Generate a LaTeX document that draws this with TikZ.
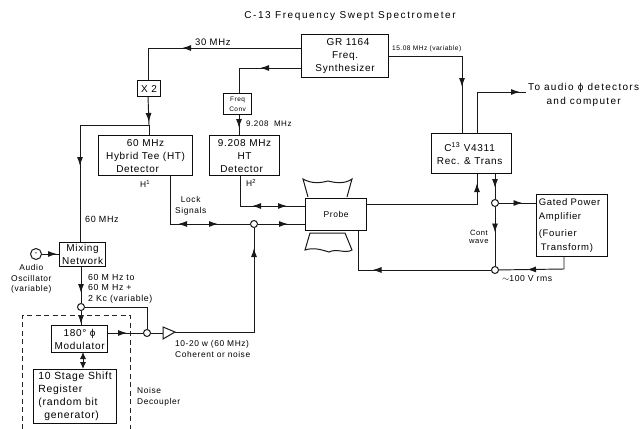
\documentclass[tikz,border=0pt]{standalone}
\usepackage{fontspec}
\setmainfont[LetterSpace=7]{Liberation Sans}
\usetikzlibrary{arrows.meta,decorations.markings,calc}
\tikzset{
  x=1pt,y=-1pt,
  wire/.style={line width=0.95pt,black!90},
  block/.style={draw=black!95,line width=1.2pt,fill=white,inner sep=0pt,align=center,font=\fontsize{10}{13}\selectfont,anchor=north west},
  junction/.style={circle,draw=black!90,line width=1pt,fill=white,minimum size=7pt,inner sep=0pt},
  lab/.style={font=\fontsize{9.5}{11}\selectfont,inner sep=0pt,anchor=west,align=left},
  small/.style={font=\fontsize{8.4}{10.4}\selectfont,inner sep=0pt,anchor=west,align=left},
  arr/.style={postaction={decorate,decoration={markings,mark=at position #1 with {\arrow{Latex[length=9pt,width=6pt]}}}}},
  rarr/.style={postaction={decorate,decoration={markings,mark=at position #1 with {\arrowreversed{Latex[length=9pt,width=6pt]}}}}},
}
\newcommand{\boxat}[7][]{\node[block,minimum width=#5 pt,minimum height=#6 pt,#1] (#2) at (#3,#4) {#7};}
\begin{document}
\begin{tikzpicture}
\useasboundingbox (0,0) rectangle (641,429);
\fill[white] (0,0) rectangle (641,429);
\node[font=\fontsize{10}{12}\selectfont\addfontfeature{LetterSpace=16},inner sep=0pt] (title) at (350,16) {C-13 Frequency Swept Spectrometer};
% bend points
\coordinate (a1) at (148,48);
\coordinate (a2) at (149,125);
\coordinate (a3) at (80,125);
\coordinate (b1) at (239,68);
\coordinate (c1) at (240,206);
\coordinate (d1) at (170,224);
\coordinate (f1) at (147,307);
\coordinate (g1) at (462,56);
\coordinate (h1) at (477,92);
\coordinate (h2) at (526,92);
\coordinate (i1) at (477,204);
\coordinate (j1) at (564,269);
\coordinate (k1) at (358,270);
% wires (under the blocks)
\draw[wire,arr=119pt] (301,48) coordinate (gr30) -- (a1) -- (148,80) coordinate (x2in);
\draw[wire,arr=26pt] (148,96) coordinate (x2out) -- (a2);
\draw[wire] (a2) -- (149,135) coordinate (htin);
\draw[wire,arr=110pt] (a2) -- (a3) -- (80,242) coordinate (mixin);
\draw[wire,arr=41pt] (301,68) coordinate (gr68) -- (b1) -- (239,93) coordinate (convin);
\draw[wire,arr=14pt] (239,114) coordinate (convout) -- (239,135) coordinate (htbin);
\draw[wire,rarr=43pt,arr=78pt] (240,175) coordinate (htbout) -- (c1) -- (305,206) coordinate (prin);
\node[junction] (jsum) at (254,224) {};
\draw[wire,rarr=57pt,arr=97pt] (170,175) coordinate (htaout) -- (d1) -- (jsum);
\draw[wire,arr=30pt] (jsum) -- (305,224) coordinate (prin2);
\draw[wire,arr=163pt] (175,332) coordinate (amptip) -- (254,332) coordinate (e2) -- (jsum);
\draw[wire,arr=105pt] (388,56) coordinate (grout) -- (g1) -- (462,133) coordinate (recin);
\draw[wire,arr=84pt] (477,133) coordinate (recout) -- (h1) -- (h2);
\draw[wire,arr=132pt] (366,204) coordinate (prout) -- (i1) -- (477,173) coordinate (recin2);
\node[junction] (jrec) at (495,203) {};
\draw[wire,arr=15pt] (495,173) coordinate (recout2) -- (jrec);
\draw[wire,arr=23.5pt] (jrec) -- (536,203) coordinate (gin);
\node[junction] (jgate) at (495,270) {};
\draw[wire,arr=25.5pt] (jrec) -- (jgate);
\draw[wire,arr=50pt] (564,256) coordinate (gout) -- (j1) -- (jgate);
\draw[wire,arr=118.5pt] (jgate) -- (k1) -- (358,230) coordinate (prb);
\node[junction] (jmix) at (81,307) {};
\node[junction] (jmod) at (147,333) {};
\draw[wire,arr=27pt] (81,266) coordinate (mixout) -- (jmix);
\draw[wire,arr=13pt] (jmix) -- (81,325) coordinate (modin);
\draw[wire] (jmix) -- (f1) -- (jmod);
\draw[wire,arr=20pt] (107,333) coordinate (modout) -- (jmod);
\draw[wire] (jmod) -- (163,333) coordinate (ampin);
\draw[wire,{Latex[length=7pt,width=6pt]}-{Latex[length=7pt,width=6pt]}] (83,352) coordinate (modb) -- (83,369) coordinate (regt);
% dashed enclosure
\draw[black!85,line width=0.9pt,dash pattern=on 5pt off 3.5pt] (22,429) -- (22,315) -- (130,315) -- (130,429);
% blocks
\boxat{gr}{301}{34}{87}{43}{\hspace*{6pt}GR 1164\\Freq.\\Synthesizer}
\boxat{xtwo}{137}{80}{23}{16}{X 2}
\boxat[font=\fontsize{6.5}{10.5}\selectfont]{conv}{223}{93}{28}{21}{Freq\\Conv}
\boxat{hta}{98}{135}{94}{40}{60 MHz\\Hybrid Tee (HT)\\Detector\hspace*{16pt}}
\boxat{htb}{209}{135}{70}{40}{9.208 MHz\\HT\hspace*{12pt}\\Detector\hspace*{6pt}}
\boxat[font=\fontsize{8.5}{10}\selectfont]{probe}{305}{198}{61}{32}{Probe}
\boxat{rec}{431}{133}{80}{40}{C\textsuperscript{13} V4311\hspace*{4pt}\\Rec. \& Trans\hspace*{4pt}}
\boxat[font=\fontsize{9.5}{13.5}\selectfont,align=left]{gated}{536}{194}{71}{62}{Gated Power\hspace*{5pt}\\Amplifier\\[4pt](Fourier\\\hspace*{2pt}Transform)}
\boxat{mix}{59}{242}{46}{24}{Mixing\\Network}
\boxat{mod}{51}{325}{56}{27}{180° ϕ\\Modulator}
\boxat[font=\fontsize{10.4}{13}\selectfont,align=left]{reg}{33}{369}{83}{54}{10 Stage Shift\\Register\\(random bit\\\hspace*{6pt}generator)}
% oscillator
\node[circle,draw=black!90,line width=1pt,minimum size=11pt,inner sep=0pt,font=\fontsize{8}{8}\selectfont] (osc) at (36,254) {-};
\draw[wire,arr=15pt] (osc) -- (mix.west|-osc);
% amplifier
\draw[line width=1pt,black!90,fill=white] ($(ampin)+(0,-6)$) -- (amptip) -- ($(ampin)+(0,6)$) -- cycle;
% magnet pole pieces
\draw[line width=1pt,black!90] (308,197) -- (303,179) .. controls (312,184) and (320,183) .. (328,181) .. controls (336,183) and (345,184) .. (352,179) -- (347,197);
\draw[line width=1pt,black!90] (310,233) -- (305,250) .. controls (314,247) and (322,250) .. (329,252) .. controls (337,248) and (345,254) .. (352,250) -- (345,233) -- cycle;
% labels
\node[lab] (l30) at (195,42) {30 MHz};
\node[small,font=\fontsize{8}{10}\selectfont] (l92) at (246,124) {9.208\ \ MHz};
\node[small] (lh1) at (140,184) {H\textsuperscript{1}};
\node[small] (lh2) at (246,183) {H\textsuperscript{2}};
\node[small,align=center,font=\fontsize{8.4}{11}\selectfont] (llock) at (175,205.5) {Lock\\Signals};
\node[small,font=\fontsize{9}{11}\selectfont] (l60) at (85,219) {60 MHz};
\node[small,align=center] (losc) at (11,279) {Audio\\Oscillator\\(variable)};
\node[small,font=\fontsize{8.8}{10.6}\selectfont] (lsw) at (88,288.5) {60 M Hz to\\60 M Hz +\\2 Kc (variable)};
\node[small,font=\fontsize{8.4}{11}\selectfont] (lpow) at (175,348.5) {10-20 w (60 MHz)\\Coherent or noise};
\node[small] (lnd) at (137,397) {Noise\\Decoupler};
\node[small,font=\fontsize{6.6}{8}\selectfont] (l15) at (392,49) {15.08 MHz (variable)};
\node[small,font=\fontsize{10}{14}\selectfont\addfontfeature{LetterSpace=13},align=center] (lto) at (528,95) {To audio ϕ detectors\\and computer};
\node[small,align=center,font=\fontsize{7.6}{8.5}\selectfont] (lcw) at (469,237) {Cont\\wave};
\node[small,font=\fontsize{8.6}{10}\selectfont] (l100) at (502,279) {\(\sim\)100 V rms};
\end{tikzpicture}
\end{document}
